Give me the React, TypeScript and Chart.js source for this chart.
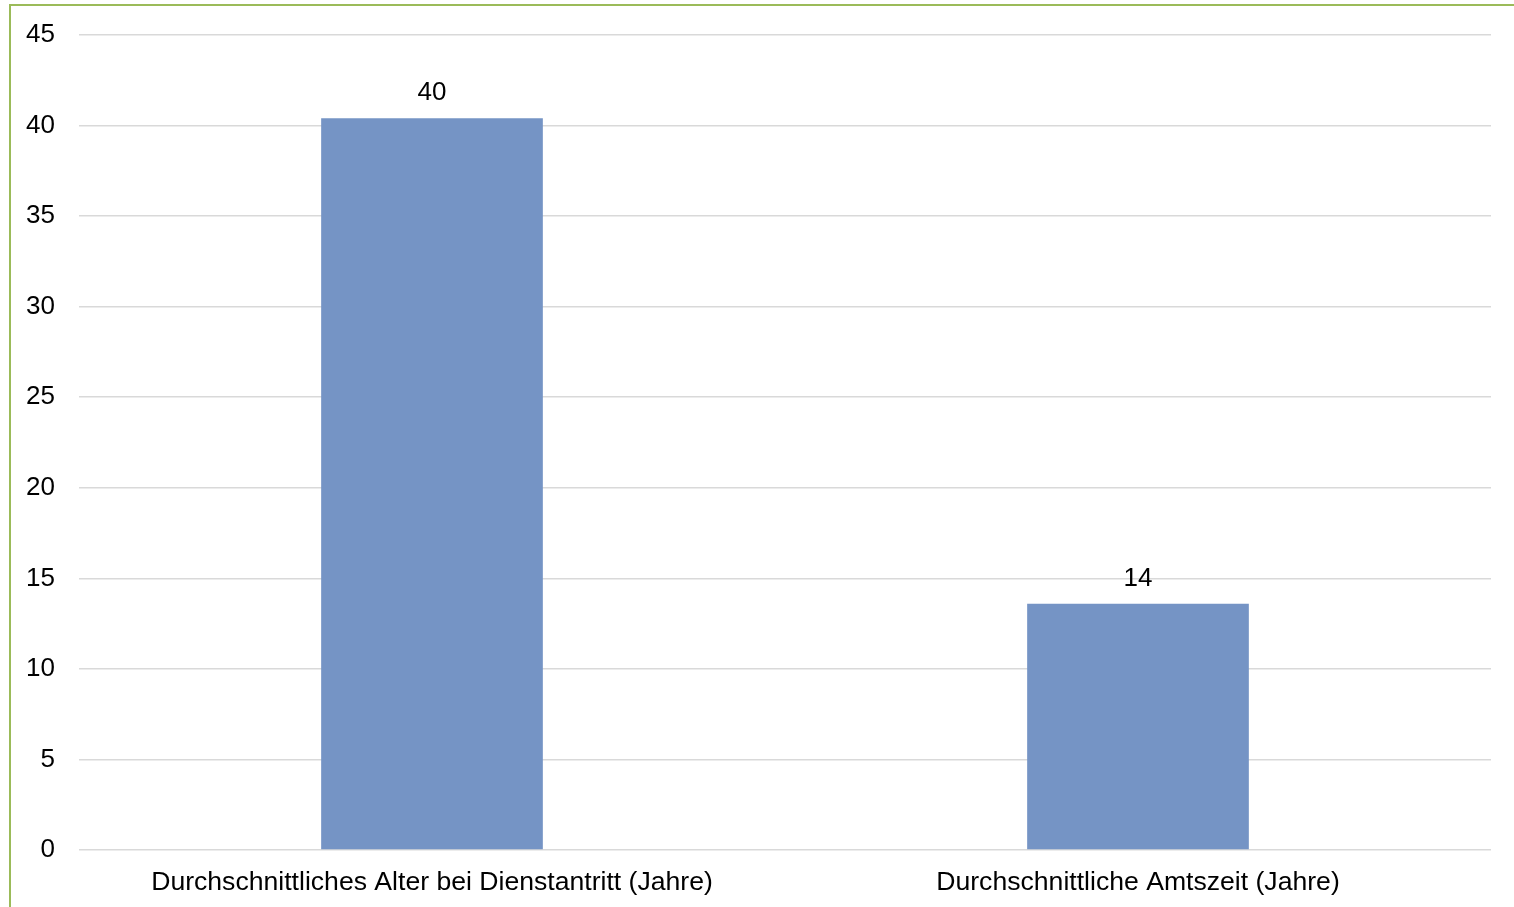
import React, { useEffect, useRef } from "react";
import { Chart, registerables } from "chart.js";

Chart.register(...registerables);

const categories = [
  "Durchschnittliches Alter bei Dienstantritt (Jahre)",
  "Durchschnittliche Amtszeit (Jahre)",
];
const values = [40.4, 13.6];
const barColor = "#7594c5";
const FONT = "'Liberation Sans', Arial, sans-serif";

const valueLabelPlugin = {
  id: "valueLabels",
  afterDatasetsDraw(chart: any) {
    const ctx = chart.ctx;
    const meta = chart.getDatasetMeta(0);
    ctx.save();
    ctx.font = `26px ${FONT}`;
    ctx.fillStyle = "#000000";
    ctx.textAlign = "center";
    ctx.textBaseline = "alphabetic";
    meta.data.forEach((bar: any, i: number) => {
      const v = chart.data.datasets[0].data[i];
      ctx.fillText(String(Math.round(v)), bar.x, bar.y - 18);
    });
    ctx.restore();
  },
};

export default function App() {
  const ref = useRef<HTMLCanvasElement | null>(null);
  useEffect(() => {
    if (!ref.current) return;
    const chart = new Chart(ref.current, {
      type: "bar",
      data: {
        labels: categories,
        datasets: [
          {
            data: values,
            backgroundColor: barColor,
            barPercentage: 0.314,
            categoryPercentage: 1,
          },
        ],
      },
      options: {
        animation: false,
        responsive: false,
        maintainAspectRatio: false,
        layout: { padding: { left: 0, right: 23, top: 29, bottom: 0 } },
        plugins: { legend: { display: false }, tooltip: { enabled: false } },
        scales: {
          x: {
            grid: { display: false, drawTicks: false },
            border: { display: false },
            ticks: {
              color: "#000000",
              padding: 17,
              maxRotation: 0,
              autoSkip: false,
              font: { family: FONT, size: 26.6 },
            },
            afterFit(scale: any) {
              scale.height = 57;
              scale.paddingLeft = 0;
              scale.paddingRight = 0;
            },
          },
          y: {
            min: 0,
            max: 45,
            ticks: {
              stepSize: 5,
              color: "#000000",
              padding: 24,
              font: { family: FONT, size: 26 },
            },
            grid: { color: "#d9d9d9", lineWidth: 1.5, drawTicks: false },
            border: { display: false },
            afterFit(scale: any) {
              scale.width = 68;
              scale.paddingTop = 0;
              scale.paddingBottom = 0;
            },
          },
        },
      },
      plugins: [valueLabelPlugin],
    });
    return () => chart.destroy();
  }, []);

  return (
    <div
      style={{
        position: "fixed",
        left: 9,
        top: 4,
        width: 1505,
        height: 903,
        borderLeft: "2px solid #9bbb59",
        borderTop: "2px solid #9bbb59",
        background: "#ffffff",
        overflow: "hidden",
      }}
    >
      <canvas ref={ref} width={1503} height={901} style={{ display: "block" }} />
    </div>
  );
}
